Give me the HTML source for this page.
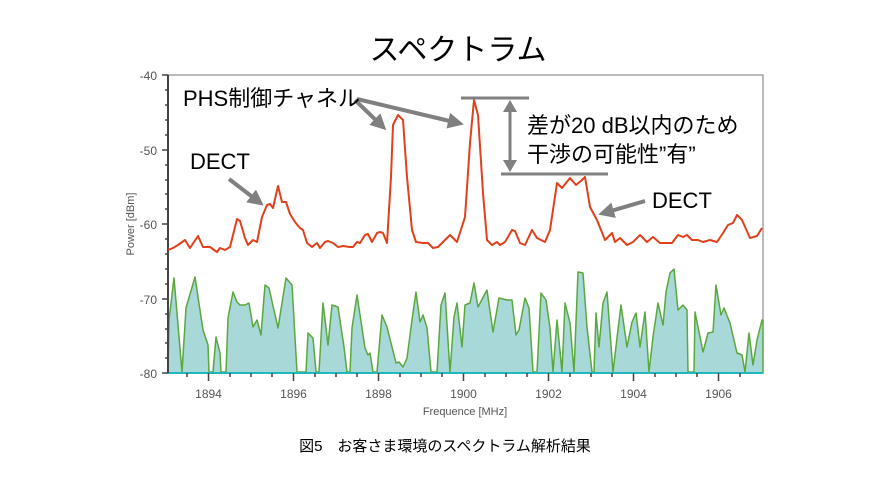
<!DOCTYPE html>
<html><head><meta charset="utf-8"><style>
body{margin:0;background:#fff;}
svg{display:block;font-family:"Liberation Sans","Noto Sans CJK JP",sans-serif;}
</style></head><body>
<svg width="890" height="500" viewBox="0 0 890 500" xmlns="http://www.w3.org/2000/svg">
<defs><marker id="ah" markerWidth="4" markerHeight="4" refX="2.5" refY="2" orient="auto" markerUnits="strokeWidth"><path d="M0,0 L4,2 L0,4 z" fill="#808080"/></marker></defs>
<text x="458" y="60" font-size="30" text-anchor="middle" fill="#000">スペクトラム</text>
<rect x="168" y="75" width="595" height="298" fill="none" stroke="#777" stroke-width="1"/>
<polygon fill="#a8d8d8" stroke="#5aa83c" stroke-width="1.5" stroke-linejoin="round" points="168,373 169,320 174,278 182,372 186,308 195,277 203,330 208,345 209,372 213,372 216,337 220,353 221,372 226,372 228,318 233,292 237,302 240,305 245,305 249,303 253,327 257,320 261,335 265,285 269,288 278,328 286,278 292,285 297,372 306,372 308,333 313,338 316,372 319,372 323,303 328,345 332,305 338,307 344,347 347,372 350,372 352,328 357,295 365,348 368,355 370,353 373,372 377,372 382,315 387,327 392,347 396,363 399,362 403,367 407,358 412,320 416,292 420,322 423,315 427,328 431,372 437,372 441,305 445,293 450,372 454,317 457,303 462,347 465,305 470,303 474,283 478,307 487,290 493,332 499,298 507,300 512,300 516,335 519,330 525,298 529,308 533,372 537,372 541,293 546,300 550,328 553,372 557,320 562,372 565,303 570,323 574,372 578,272 583,273 587,327 592,372 594,372 596,313 599,347 603,303 607,292 613,372 617,338 621,305 627,347 632,322 636,313 640,347 645,312 649,372 653,337 658,303 663,325 666,292 670,273 674,269 678,310 683,305 687,310 688,372 694,372 695,312 698,327 703,352 708,333 713,332 716,285 721,315 724,308 730,323 737,353 742,355 745,372 749,333 753,365 757,340 762,320 763,320 763,373"/>
<line x1="168" y1="373" x2="763" y2="373" stroke="#20b8c0" stroke-width="2"/>
<line x1="168" y1="75" x2="168" y2="373" stroke="#444" stroke-width="2"/>
<polyline fill="none" stroke="#e0401c" stroke-width="2" stroke-linejoin="round" points="168,250 173,248 178,245 185,240 190,248 198,236 203,247 210,247 217,252 220,248 225,250 230,247 237,219 240,221 245,238 248,245 253,240 257,242 262,217 267,205 270,204 273,208 278,186 282,202 286,202 290,214 295,222 300,228 303,230 307,243 312,247 317,243 320,248 325,242 328,241 333,243 338,247 343,246 350,247 353,247 357,242 360,243 365,235 368,234 372,242 377,233 380,232 383,233 387,243 391,177 393,125 398,115 403,120 407,177 412,230 416,242 423,243 428,243 433,248 438,247 442,243 450,235 457,242 465,217 470,143 474,100 478,115 483,193 487,240 492,245 497,242 500,245 505,242 512,230 515,231 520,243 525,245 532,230 537,238 545,242 550,230 557,183 562,188 570,178 576,185 582,180 585,177 590,207 597,220 605,240 612,233 615,242 620,238 627,245 633,242 640,235 647,242 653,237 660,243 667,243 672,243 678,235 683,237 687,235 692,240 698,240 703,242 710,240 717,242 723,233 728,225 733,223 737,215 742,220 750,238 757,236 762,228"/>
<g stroke="#444" stroke-width="1.5">
<line x1="162" y1="75" x2="168" y2="75"/><line x1="162" y1="150" x2="168" y2="150"/><line x1="162" y1="224" x2="168" y2="224"/><line x1="162" y1="299" x2="168" y2="299"/><line x1="162" y1="373" x2="168" y2="373"/>
<line x1="165" y1="90" x2="168" y2="90"/><line x1="165" y1="105" x2="168" y2="105"/><line x1="165" y1="120" x2="168" y2="120"/><line x1="165" y1="135" x2="168" y2="135"/>
<line x1="165" y1="165" x2="168" y2="165"/><line x1="165" y1="180" x2="168" y2="180"/><line x1="165" y1="194" x2="168" y2="194"/><line x1="165" y1="209" x2="168" y2="209"/>
<line x1="165" y1="239" x2="168" y2="239"/><line x1="165" y1="254" x2="168" y2="254"/><line x1="165" y1="269" x2="168" y2="269"/><line x1="165" y1="284" x2="168" y2="284"/>
<line x1="165" y1="314" x2="168" y2="314"/><line x1="165" y1="329" x2="168" y2="329"/><line x1="165" y1="343" x2="168" y2="343"/><line x1="165" y1="358" x2="168" y2="358"/>
</g>
<g font-size="12" fill="#555" text-anchor="end">
<text x="157" y="80">-40</text><text x="157" y="155">-50</text><text x="157" y="229">-60</text><text x="157" y="304">-70</text><text x="157" y="378">-80</text>
</g>
<text transform="translate(134,224) rotate(-90)" font-size="11" fill="#555" text-anchor="middle">Power [dBm]</text>
<g stroke="#444" stroke-width="1.5">
<line x1="208.5" y1="373" x2="208.5" y2="381"/><line x1="293.5" y1="373" x2="293.5" y2="381"/><line x1="378.5" y1="373" x2="378.5" y2="381"/><line x1="463.5" y1="373" x2="463.5" y2="381"/><line x1="548.5" y1="373" x2="548.5" y2="381"/><line x1="633.5" y1="373" x2="633.5" y2="381"/><line x1="718.5" y1="373" x2="718.5" y2="381"/>
<line x1="187" y1="373" x2="187" y2="377"/><line x1="230" y1="373" x2="230" y2="377"/><line x1="251" y1="373" x2="251" y2="377"/><line x1="272" y1="373" x2="272" y2="377"/><line x1="315" y1="373" x2="315" y2="377"/><line x1="336" y1="373" x2="336" y2="377"/><line x1="357" y1="373" x2="357" y2="377"/><line x1="400" y1="373" x2="400" y2="377"/><line x1="421" y1="373" x2="421" y2="377"/><line x1="442" y1="373" x2="442" y2="377"/><line x1="485" y1="373" x2="485" y2="377"/><line x1="506" y1="373" x2="506" y2="377"/><line x1="527" y1="373" x2="527" y2="377"/><line x1="570" y1="373" x2="570" y2="377"/><line x1="591" y1="373" x2="591" y2="377"/><line x1="612" y1="373" x2="612" y2="377"/><line x1="655" y1="373" x2="655" y2="377"/><line x1="676" y1="373" x2="676" y2="377"/><line x1="697" y1="373" x2="697" y2="377"/><line x1="740" y1="373" x2="740" y2="377"/>
</g>
<g font-size="12" fill="#555" text-anchor="middle">
<text x="208.5" y="398">1894</text><text x="293.5" y="398">1896</text><text x="378.5" y="398">1898</text><text x="463.5" y="398">1900</text><text x="548.5" y="398">1902</text><text x="633.5" y="398">1904</text><text x="718.5" y="398">1906</text>
</g>
<text x="465" y="415" font-size="11" fill="#555" text-anchor="middle">Frequence [MHz]</text>
<g stroke="#808080" stroke-width="4" fill="none">
<line x1="355" y1="100" x2="382" y2="126" marker-end="url(#ah)"/>
<line x1="357" y1="99" x2="458" y2="123" marker-end="url(#ah)"/>
<line x1="229" y1="179" x2="259" y2="202" marker-end="url(#ah)"/>
<line x1="645" y1="201" x2="604" y2="213" marker-end="url(#ah)"/>
</g>
<g stroke="#808080" stroke-width="3">
<line x1="461" y1="98" x2="529" y2="98"/><line x1="501" y1="174" x2="608" y2="174"/>
</g>
<line x1="510" y1="107" x2="510" y2="165" stroke="#808080" stroke-width="3"/>
<path d="M503,112 L510,100 L517,112 z M503,160 L510,172 L517,160 z" fill="#808080"/>
<g font-size="22" fill="#000">
<text x="183" y="106">PHS制御チャネル</text>
<text x="190" y="169">DECT</text>
<text x="652" y="208">DECT</text>
<text x="527" y="133">差が20 dB以内のため</text>
<text x="527" y="162">干渉の可能性”有”</text>
</g>
<text x="445" y="451" font-size="15" fill="#000" text-anchor="middle">図5　お客さま環境のスペクトラム解析結果</text>
</svg>
</body></html>
